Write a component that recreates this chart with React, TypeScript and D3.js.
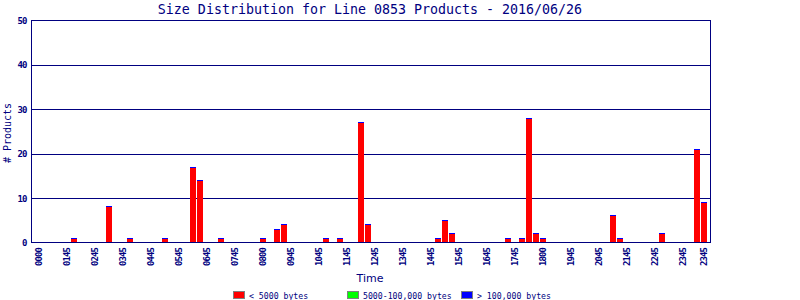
import React from "react";
import * as d3 from "d3";

const smallValues: number[] = [
  0, 0, 0, 0, 0, 1, 0, 0, 0, 0,
  8, 0, 0, 1, 0, 0, 0, 0, 1, 0,
  0, 0, 17, 14, 0, 0, 1, 0, 0, 0,
  0, 0, 1, 0, 3, 4, 0, 0, 0, 0,
  0, 1, 0, 1, 0, 0, 27, 4, 0, 0,
  0, 0, 0, 0, 0, 0, 0, 1, 5, 2,
  0, 0, 0, 0, 0, 0, 0, 1, 0, 1,
  28, 2, 1, 0, 0, 0, 0, 0, 0, 0,
  0, 0, 6, 1, 0, 0, 0, 0, 0, 2,
  0, 0, 0, 0, 21, 9,
];
const mediumValues: number[] = smallValues.map(() => 0);
const largeValues: number[] = smallValues.map(() => 0);

const tickIndex: number[] = [0, 4, 8, 12, 16, 20, 24, 28, 32, 36, 40, 44, 48, 52, 56, 60, 64, 68, 72, 76, 80, 84, 88, 92, 95];
const tickLabels: string[] = ["0000", "0145", "0245", "0345", "0445", "0545", "0645", "0745", "0800", "0945", "1045", "1145", "1245", "1345", "1445", "1545", "1645", "1745", "1800", "1945", "2045", "2145", "2245", "2345", "2345"];
const yTicks: number[] = [0, 10, 20, 30, 40, 50];

const seriesNames = ["< 5000 bytes", "5000-100,000 bytes", "> 100,000 bytes"];
const seriesColors = ["#ff0000", "#00ff00", "#0000ff"];

const NAVY = "#000080";
const MONO = "'DejaVu Sans Mono', monospace";

export default function App() {
  const W = 800, H = 300;
  const left = 31, right = 710, top = 20.5, bottom = 242.5;
  const x = d3.scaleLinear().domain([0, 96]).range([36, 708]);
  const y = d3.scaleLinear().domain([0, 50]).range([bottom, top]);
  const bw = 6;

  const legendX = [233, 347, 461];

  return (
    <svg width={W} height={H} style={{ position: "absolute", left: 0, top: 0, background: "#fff" }}>
      <rect x={0} y={0} width={W} height={H} fill="#fff" />
      <text x={370} y={14} textAnchor="middle" fontFamily={MONO} fontSize={13.3} fill={NAVY}>
        Size Distribution for Line 0853 Products - 2016/06/26
      </text>
      {/* grid */}
      {yTicks.filter((t) => t > 0 && t < 50).map((t) => (
        <line key={t} x1={left} x2={right} y1={Math.round(y(t)) + 0.5} y2={Math.round(y(t)) + 0.5} stroke={NAVY} strokeWidth={1} />
      ))}
      {/* bars */}
      <g shapeRendering="crispEdges">
        {smallValues.map((v, i) => {
          const total = v + mediumValues[i] + largeValues[i];
          if (total <= 0) return null;
          const yt = Math.round(y(total) - 0.5);
          const yb = Math.round(bottom - 0.5);
          return (
            <g key={i}>
              <rect x={x(i)} y={yt} width={bw} height={yb - yt} fill={seriesColors[0]} />
              <rect x={x(i)} y={yt} width={bw} height={1} fill={seriesColors[2]} />
            </g>
          );
        })}
      </g>
      {/* frame */}
      <g shapeRendering="crispEdges">
        <line x1={left + 0.5} x2={left + 0.5} y1={top} y2={bottom} stroke={NAVY} />
        <line x1={right + 0.5} x2={right + 0.5} y1={top} y2={bottom} stroke={NAVY} />
        <line x1={left} x2={right + 1} y1={top} y2={top} stroke={NAVY} />
        <line x1={left} x2={right + 1} y1={bottom} y2={bottom} stroke={NAVY} />
      </g>
      {/* y ticks */}
      {yTicks.map((t) => (
        <text key={t} x={26.5} y={y(t) + 3.5} textAnchor="end" fontFamily={MONO} fontSize={9} fontWeight="bold" letterSpacing={-0.9} fill={NAVY}>
          {t}
        </text>
      ))}
      <text transform={`translate(11,133) rotate(-90)`} textAnchor="middle" fontFamily={MONO} fontSize={10} fill={NAVY}>
        # Products
      </text>
      {/* x ticks */}
      {tickIndex.map((ti, k) => (
        <text key={k} transform={`translate(${x(ti) + bw / 2 + 3},248) rotate(-90)`} textAnchor="end" fontFamily={MONO} fontSize={9} fontWeight="bold" letterSpacing={-0.9} fill={NAVY}>
          {tickLabels[k]}
        </text>
      ))}
      <text x={370} y={282} textAnchor="middle" fontFamily="'DejaVu Sans', sans-serif" fontSize={11} fill={NAVY}>
        Time
      </text>
      {/* legend */}
      {seriesNames.map((n, k) => (
        <g key={k}>
          <rect x={legendX[k] + 0.5} y={291.5} width={11} height={7} fill={seriesColors[k]} stroke="#808080" shapeRendering="crispEdges" />
          <text x={legendX[k] + 16} y={298.5} fontFamily={MONO} fontSize={8.2} fill={NAVY}>
            {n}
          </text>
        </g>
      ))}
    </svg>
  );
}
